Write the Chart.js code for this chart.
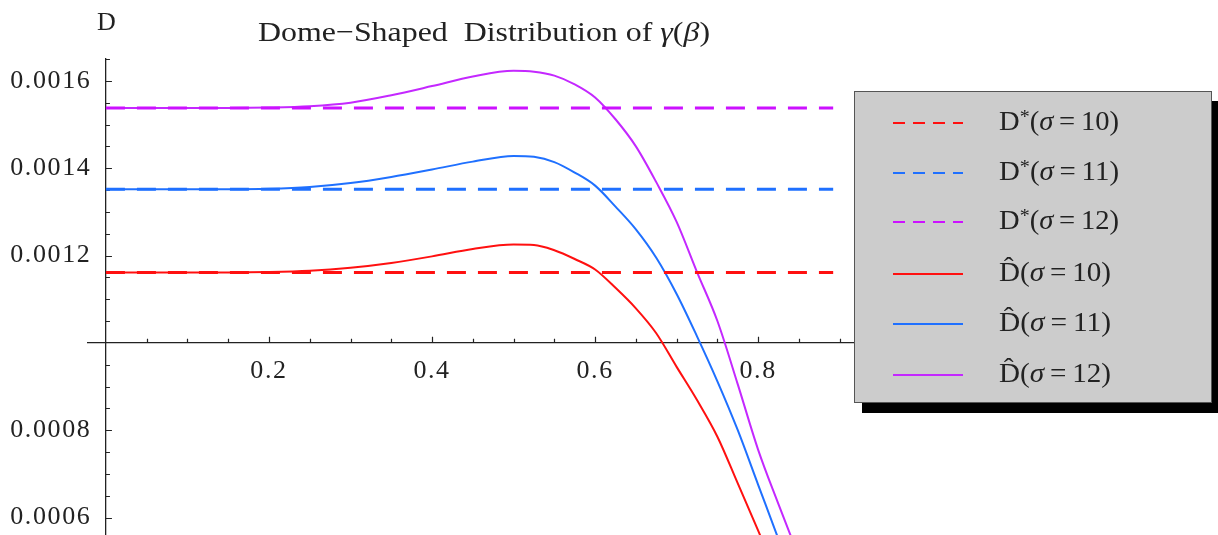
<!DOCTYPE html>
<html>
<head>
<meta charset="utf-8">
<script src="https://cdn.jsdelivr.net/npm/chart.js@4.4.1/dist/chart.umd.min.js"></script>
<style>
  html, body { margin: 0; padding: 0; background: #fff; }
  #wrap { position: relative; width: 1218px; height: 535px; overflow: hidden; font-family: "Liberation Serif", "Times New Roman", serif; color: #222; }
  #c { position: absolute; left: 0; top: 0; }
  .txt { position: absolute; white-space: nowrap; line-height: 1; transform-origin: 0 0; }
  #title { left: 258px; top: 18px; font-size: 28px; }
  #ylab { left: 97px; top: 9px; font-size: 26px; }
  #legend { position: absolute; left: 854px; top: 91px; width: 358px; height: 312px; box-sizing: border-box;
            background: #cccccc; border: 1px solid #555; box-shadow: 8px 10px 0 #000; }
  .row { position: absolute; left: 0; height: 40px; width: 100%; }
  .row svg { position: absolute; left: 38px; top: 19px; }
  .row .lab { position: absolute; left: 144px; top: 4px; font-size: 27px; white-space: nowrap; transform-origin: 0 0; }
  sup { font-size: 70%; vertical-align: 0; position: relative; top: -0.35em; }
</style>
</head>
<body>
<div id="wrap">
  <canvas id="c" width="1218" height="535"></canvas>
  <div class="txt" id="title">Dome−Shaped&nbsp; Distribution of <i>γ</i>(<i>β</i>)</div>
  <div class="txt" id="ylab">D</div>
  <div id="legend"></div>
</div>
<script>
// ---- data ----
const beta = [0, 0.05, 0.1, 0.15, 0.2, 0.25, 0.3, 0.35, 0.4, 0.45, 0.5, 0.525, 0.55, 0.575, 0.6, 0.625, 0.65, 0.675, 0.7, 0.725, 0.75, 0.775, 0.8, 0.825, 0.85];
const dHatSigma10 = [0.001161, 0.001161, 0.001161, 0.001161, 0.001162, 0.001165, 0.001172, 0.001183, 0.001198, 0.001215, 0.001225, 0.001224, 0.001212, 0.001192, 0.001168, 0.001126, 0.001079, 0.001022, 0.000945, 0.000869, 0.000785, 0.000678, 0.00057, 0.00046, 0.00035];
const dHatSigma11 = [0.001352, 0.001352, 0.001352, 0.001352, 0.001353, 0.001357, 0.001366, 0.00138, 0.001397, 0.001415, 0.001428, 0.001426, 0.001414, 0.00139, 0.00136, 0.001312, 0.00126, 0.001195, 0.001112, 0.001015, 0.000912, 0.0008, 0.000675, 0.00055, 0.00042];
const dHatSigma12 = [0.001538, 0.001538, 0.001538, 0.001538, 0.001539, 0.001542, 0.00155, 0.001567, 0.001588, 0.00161, 0.001623, 0.001621, 0.001612, 0.001592, 0.001562, 0.001512, 0.00145, 0.001368, 0.001277, 0.001162, 0.00105, 0.000905, 0.000755, 0.00063, 0.00051];
const dStarValues = [0.001161, 0.001352, 0.001538];
const dStarBetaRange = [0, 0.892];
const sigmaValues = [10, 11, 12];
const xTickLabels = ['0.2', '0.4', '0.6', '0.8'];
const yTickLabels = ['0.0006', '0.0008', '0.0012', '0.0014', '0.0016'];
const xMinorStep = 0.05;
const yMinorStep = 0.00005;

// ---- styles ----
const colors = ['#ff1010', '#1f70ff', '#c428ff'];
const dashColors = ['#ff1010', '#1f70ff', '#cc11ff'];

const hatSeries = [dHatSigma10, dHatSigma11, dHatSigma12];
const datasets = [];
dStarValues.forEach((v, i) => {
  datasets.push({
    label: 'D*(σ=' + sigmaValues[i] + ')',
    data: dStarBetaRange.map(b => ({x: b, y: v})),
    borderColor: dashColors[i], borderWidth: 3, borderDash: [19, 12],
    pointRadius: 0, fill: false
  });
});
hatSeries.forEach((arr, i) => {
  datasets.push({
    label: 'D̂(σ=' + sigmaValues[i] + ')',
    data: beta.map((b, j) => ({x: b, y: arr[j]})),
    borderColor: colors[i], borderWidth: 2, cubicInterpolationMode: 'monotone',
    pointRadius: 0, fill: false
  });
});

function rangeTicks(min, max, step) {
  const out = [];
  const n0 = Math.ceil(min / step - 1e-9), n1 = Math.floor(max / step + 1e-9);
  for (let n = n0; n <= n1; n++) out.push(+(n * step).toFixed(8));
  return out;
}

const tickFont = {family: '"Liberation Serif", "Times New Roman", serif', size: 26};

const tickMarks = {
  id: 'tickMarks',
  beforeDraw(chart) { chart.ctx.letterSpacing = '1.6px'; },
  beforeDatasetsDraw(chart) {
    const {ctx, scales: {x, y}} = chart;
    ctx.letterSpacing = '0px';
    ctx.save();
    ctx.strokeStyle = '#222';
    ctx.lineWidth = 1.2;
    const y0 = y.getPixelForValue(0.001);
    const x0 = x.getPixelForValue(0);
    ctx.beginPath();
    rangeTicks(0.05, x.max, xMinorStep).forEach(v => {
      const px = Math.round(x.getPixelForValue(v)) + 0.5;
      const major = xTickLabels.includes(String(v));
      ctx.moveTo(px, y0);
      ctx.lineTo(px, y0 - (major ? 6 : 4));
    });
    rangeTicks(y.min, y.max, yMinorStep).forEach(v => {
      if (Math.abs(v - 0.001) < 1e-9) return;
      const py = Math.round(y.getPixelForValue(v)) + 0.5;
      const major = yTickLabels.some(t => Math.abs(parseFloat(t) - v) < 1e-9);
      ctx.moveTo(x0, py);
      ctx.lineTo(x0 + (major ? 6 : 4), py);
    });
    ctx.stroke();
    ctx.restore();
  }
};

const noPad = s => { s.paddingTop = 0; s.paddingBottom = 0; s.paddingLeft = 0; s.paddingRight = 0; };

new Chart(document.getElementById('c'), {
  type: 'line',
  data: {datasets},
  plugins: [tickMarks],
  options: {
    responsive: false,
    animation: false,
    layout: {padding: {left: 88, right: 1218 - 856, top: 59, bottom: 0}},
    plugins: {legend: {display: false}, tooltip: {enabled: false}, title: {display: false}},
    scales: {
      x: {
        type: 'linear', min: -0.022, max: 0.92,
        position: {y: 0.001},
        grid: {display: false},
        border: {display: true, color: '#222', width: 1.3},
        afterFit: noPad,
        afterBuildTicks: s => { s.ticks = xTickLabels.map(t => ({value: parseFloat(t)})); },
        ticks: {font: tickFont, color: '#222', padding: 5, maxRotation: 0, autoSkip: false,
                callback: v => xTickLabels.find(t => Math.abs(parseFloat(t) - v) < 1e-9) || ''}
      },
      y: {
        type: 'linear', min: 0.00056, max: 0.00165,
        position: {x: 0},
        grid: {display: false},
        border: {display: true, color: '#222', width: 1.3},
        afterFit: noPad,
        afterBuildTicks: s => { s.ticks = yTickLabels.map(t => ({value: parseFloat(t)})); },
        ticks: {font: tickFont, color: '#222', autoSkip: false,
                callback: v => (yTickLabels.find(t => Math.abs(parseFloat(t) - v) < 1e-9) || '') + '\u2002'}
      }
    }
  }
});

// ---- legend (HTML) ----
const legend = document.getElementById('legend');
const rowTops = [10, 60, 109, 161, 211, 262];
const legendItems = [];
dStarValues.forEach((v, i) => legendItems.push({html: 'D<sup>*</sup>(<i>σ</i>&thinsp;=&thinsp;' + sigmaValues[i] + ')', color: dashColors[i], dash: '12,8'}));
sigmaValues.forEach((s, i) => legendItems.push({html: 'D̂(<i>σ</i>&thinsp;=&thinsp;' + s + ')', color: colors[i], dash: ''}));
legendItems.forEach((it, i) => {
  const row = document.createElement('div');
  row.className = 'row';
  row.style.top = rowTops[i] + 'px';
  row.innerHTML = '<svg width="72" height="4"><line x1="0" y1="2" x2="70" y2="2" stroke="' + it.color +
    '" stroke-width="2"' + (it.dash ? ' stroke-dasharray="' + it.dash + '"' : '') + '/></svg>' +
    '<span class="lab">' + it.html + '</span>';
  legend.appendChild(row);
});
// stretch text horizontally to match the reference's wide rendering
function fitWidth(el, target) {
  const w = el.getBoundingClientRect().width;
  if (w > 0) el.style.transform = 'scaleX(' + (target / w) + ')';
}
fitWidth(document.getElementById('title'), 452);
document.querySelectorAll('.row .lab').forEach((el, i) => fitWidth(el, i < 3 ? 120 : 112));
</script>
</body>
</html>
